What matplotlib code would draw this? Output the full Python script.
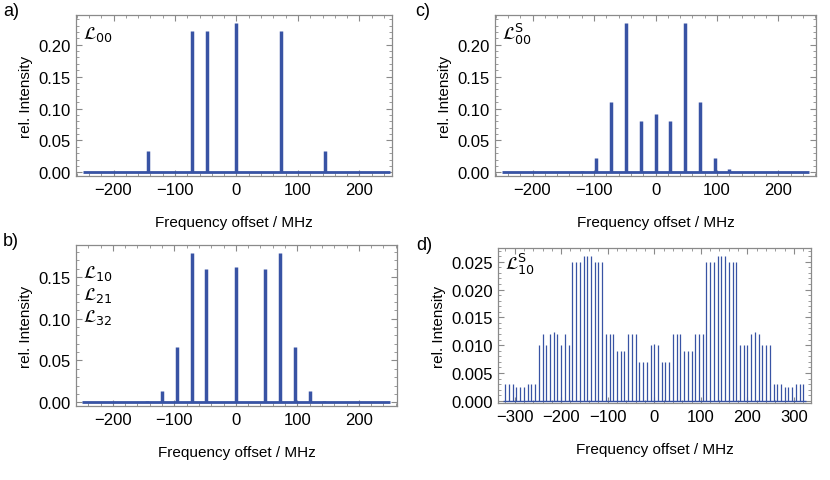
import matplotlib
matplotlib.use("Agg")
import matplotlib.pyplot as plt
from matplotlib.ticker import MultipleLocator, FormatStrFormatter

plt.rcParams['font.family'] = ['Liberation Sans', 'DejaVu Sans']
plt.rcParams['mathtext.fontset'] = 'dejavusans'

# ---- data ----
freq_a = [-144, -72, -48, 0, 72, 144]
int_a = [0.033, 0.222, 0.222, 0.234, 0.222, 0.033]

freq_b = [-144, -120, -96, -72, -48, 0, 48, 72, 96, 120, 144]
int_b = [0.001, 0.013, 0.0666, 0.179, 0.160, 0.162, 0.160, 0.179, 0.0666, 0.013, 0.001]

freq_c = [-144, -120, -96, -72, -48, -24, 0, 24, 48, 72, 96, 120, 144]
int_c = [0.0005, 0.002, 0.022, 0.110, 0.234, 0.081, 0.0914, 0.081, 0.234, 0.110, 0.022, 0.006, 0.001]

freq_d = list(range(-320, 321, 8))
int_d = [0.003, 0.003, 0.003, 0.0025, 0.0025, 0.0025, 0.003, 0.003, 0.003,
         0.010, 0.012, 0.010, 0.012, 0.0123, 0.012, 0.010, 0.012, 0.010,
         0.025, 0.025, 0.025, 0.0261, 0.0261, 0.0261, 0.025, 0.025, 0.025,
         0.012, 0.012, 0.012, 0.009, 0.009, 0.009, 0.012, 0.012, 0.012,
         0.007, 0.007, 0.007, 0.010, 0.0102, 0.010, 0.007, 0.007, 0.007,
         0.012, 0.012, 0.012, 0.009, 0.009, 0.009, 0.012, 0.012, 0.012,
         0.025, 0.025, 0.025, 0.0261, 0.0261, 0.0261, 0.025, 0.025, 0.025,
         0.010, 0.010, 0.010, 0.012, 0.0123, 0.012, 0.010, 0.010, 0.010,
         0.003, 0.003, 0.003, 0.0025, 0.0025, 0.0025, 0.003, 0.003, 0.003]

labels_a = [r'$\mathcal{L}_{00}$']
labels_b = [r'$\mathcal{L}_{10}$', r'$\mathcal{L}_{21}$', r'$\mathcal{L}_{32}$']
labels_c = [r'$\mathcal{L}^{\mathrm{S}}_{00}$']
labels_d = [r'$\mathcal{L}^{\mathrm{S}}_{10}$']

panel_letters = ['a', 'c', 'b', 'd']
letter_x = [3, 415, 3, 416]
letter_y = [3, 3, 233, 237]

BLUE = '#3853a4'
FRAME = '#8a8a8a'
W, H = 830, 481

fig = plt.figure(figsize=(W / 100, H / 100), dpi=100)


def make_ax(left, top, right, bottom):
    return fig.add_axes([left / W, 1 - bottom / H, (right - left) / W, (bottom - top) / H])


def style(ax, xmaj, xmin, ymaj, ymin, yfmt):
    for s in ax.spines.values():
        s.set_color(FRAME)
        s.set_linewidth(0.9)
    ax.xaxis.set_major_locator(MultipleLocator(xmaj))
    ax.xaxis.set_minor_locator(MultipleLocator(xmin))
    ax.yaxis.set_major_locator(MultipleLocator(ymaj))
    ax.yaxis.set_minor_locator(MultipleLocator(ymin))
    ax.yaxis.set_major_formatter(FormatStrFormatter(yfmt))
    ax.tick_params(which='both', direction='in', top=True, right=True, color=FRAME,
                   labelsize=12, labelcolor='black', pad=4)
    ax.tick_params(which='major', length=4, width=0.8)
    ax.tick_params(which='minor', length=2, width=0.6)
    ax.set_xlabel('Frequency offset / MHz', fontsize=11, labelpad=13)
    ax.set_ylabel('rel. Intensity', fontsize=11, labelpad=4)


# panel a
axa = make_ax(76, 15.7, 392.3, 177.3)
axa.hlines(0, -250, 250, color=BLUE, lw=2)
axa.vlines(freq_a, 0, int_a, color=BLUE, lw=2.5)
axa.set_xlim(-261, 253.5)
axa.set_ylim(-0.0062, 0.247)
style(axa, 100, 20, 0.05, 0.01, '%.2f')
axa.text(0.022, 0.94, labels_a[0], transform=axa.transAxes, fontsize=13, va='top', ha='left')

# panel c
axc = make_ax(495, 15.7, 816, 177.3)
axc.hlines(0, -250, 250, color=BLUE, lw=2)
axc.vlines(freq_c, 0, int_c, color=BLUE, lw=2.5)
axc.set_xlim(-261, 261)
axc.set_ylim(-0.0062, 0.247)
style(axc, 100, 20, 0.05, 0.01, '%.2f')
axc.text(0.022, 0.96, labels_c[0], transform=axc.transAxes, fontsize=13, va='top', ha='left')

# panel b
axb = make_ax(76, 245.7, 397, 407.3)
axb.hlines(0, -250, 250, color=BLUE, lw=2)
axb.vlines(freq_b, 0, int_b, color=BLUE, lw=2.5)
axb.set_xlim(-260, 262)
axb.set_ylim(-0.0048, 0.1885)
style(axb, 100, 20, 0.05, 0.01, '%.2f')
for i, lab in enumerate(labels_b):
    axb.text(0.022, 0.885 - i * 0.135, lab, transform=axb.transAxes, fontsize=13, va='top', ha='left')

# panel d
axd = make_ax(498.3, 249, 811, 404)
axd.hlines(0, -325, 325, color=BLUE, lw=1)
axd.vlines(freq_d, 0, int_d, color=BLUE, lw=0.9)
axd.set_xlim(-335, 336.5)
axd.set_ylim(-0.0004, 0.02746)
style(axd, 100, 20, 0.005, 0.001, '%.3f')
axd.text(0.022, 0.98, labels_d[0], transform=axd.transAxes, fontsize=13, va='top', ha='left')

# panel letters
close_paren = chr(41)
for i in range(4):
    fig.text(letter_x[i] / W, 1 - letter_y[i] / H, panel_letters[i] + close_paren,
             fontsize=13, va='top', ha='left')

fig.savefig('out.png', dpi=100)
